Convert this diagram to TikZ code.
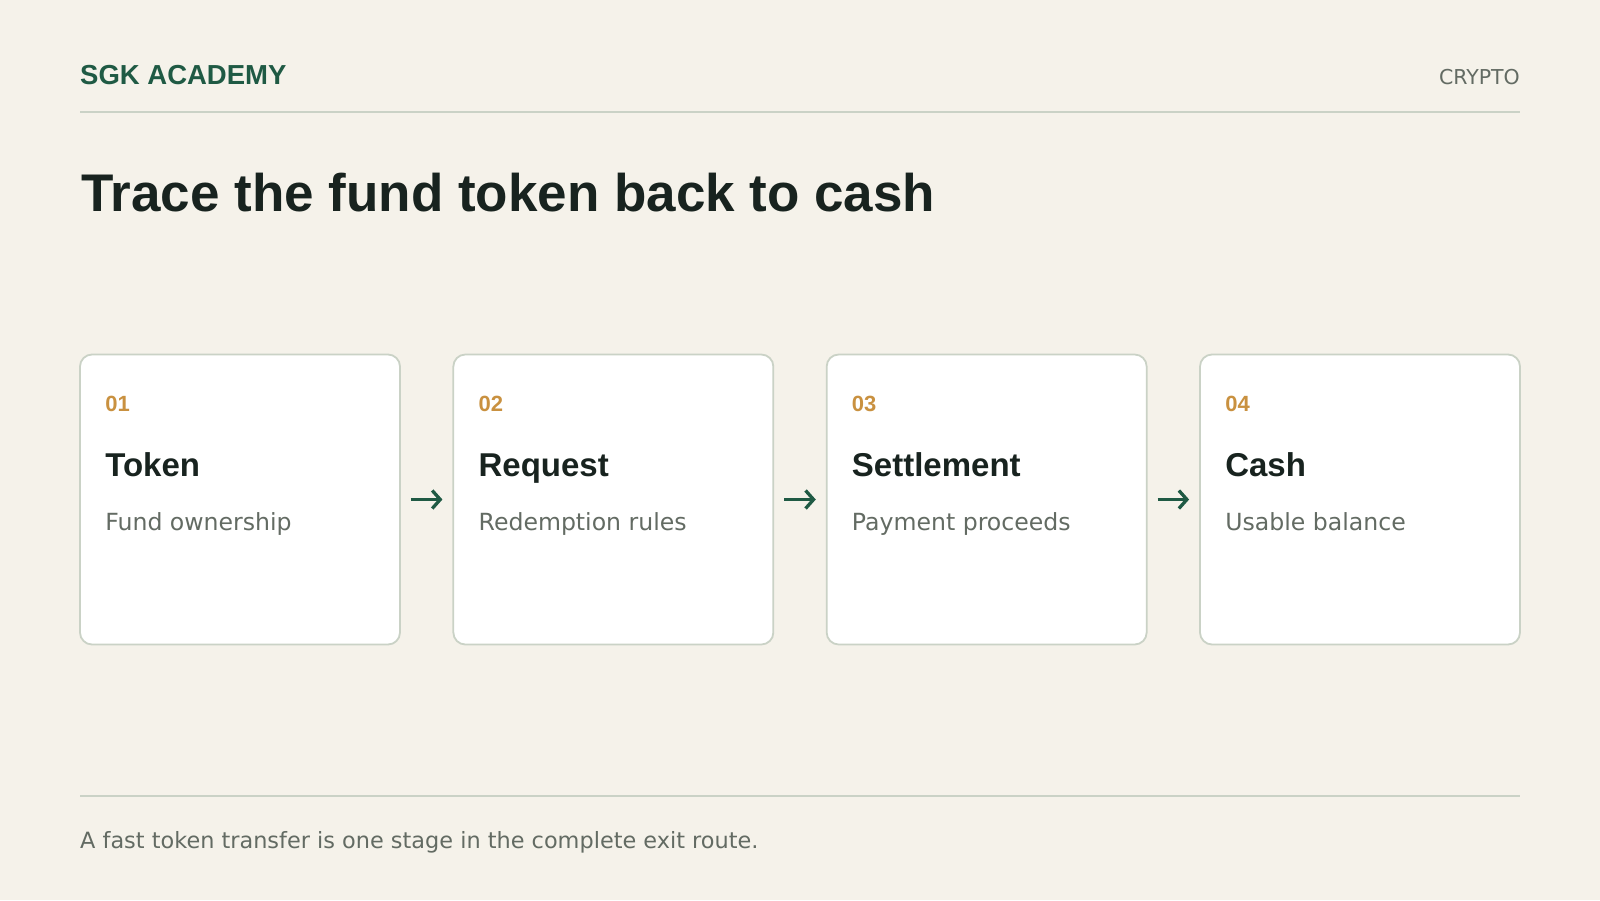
\documentclass[tikz,border=0pt]{standalone}
\usepackage{fontspec}
\setmainfont{DejaVu Sans}[BoldFont={Liberation Sans Bold}]
\usetikzlibrary{calc,arrows.meta}
\definecolor{bgcol}{HTML}{F5F2EA}
\definecolor{rulecol}{HTML}{CAD2C6}
\definecolor{brandgreen}{HTML}{1F5A44}
\definecolor{numorange}{HTML}{C99140}
\definecolor{inkdark}{HTML}{18231F}
\definecolor{inkgray}{HTML}{636B63}
\tikzset{
card/.style={draw=rulecol,line width=1.8pt,fill=white,rounded corners=12pt,minimum width=320pt,minimum height=290pt,inner sep=0pt},
txt/.style={anchor=base west,inner sep=0pt},
flow/.style={draw=brandgreen,line width=3.3pt,-{Straight Barb[length=8pt,width=18pt,line width=3.3pt]},shorten <=10pt,shorten >=10pt}
}
\begin{document}
\begin{tikzpicture}[x=1pt,y=-1pt]
\fill[bgcol] (0,0) rectangle (1600,900);
\useasboundingbox (0,0) rectangle (1600,900);

\node[txt,text=brandgreen,font=\fontsize{27.5}{32}\selectfont\bfseries] (brand) at (80,84) {SGK ACADEMY};
\node[txt,anchor=base east,text=inkgray,font=\fontsize{20.5}{24}\selectfont] (topic) at (1520,84) {CRYPTO};
\coordinate (hl) at (80,111.5);
\coordinate (hr) at (1520,111.5);
\draw[rulecol,line width=2pt] (hl) -- (hr);

\node[txt,text=inkdark,font=\fontsize{53}{60}\selectfont\bfseries] (title) at (81,211) {Trace the fund token back to cash};

\foreach \i/\head/\desc in {1/Token/Fund ownership,2/Request/Redemption rules,3/Settlement/Payment proceeds,4/Cash/Usable balance} {
\node[card] (c\i) at (240+373.333*\i-373.333,499.5) {};
\node[txt,text=numorange,font=\fontsize{22}{26}\selectfont\bfseries] (n\i) at ($(c\i.north west)+(26,58)$) {0\i};
\node[txt,text=inkdark,font=\fontsize{33}{40}\selectfont\bfseries] (h\i) at ($(c\i.north west)+(26,123)$) {\head};
\node[txt,text=inkgray,font=\fontsize{23.6}{28}\selectfont] (d\i) at ($(c\i.north west)+(26,177)$) {\desc};
}

\foreach \i in {1,2,3} {
\pgfmathtruncatemacro{\j}{\i+1}
\draw[flow] (c\i.east) -- (c\j.west);
}

\coordinate (fl) at (80,795.5);
\coordinate (fr) at (1520,795.5);
\draw[rulecol,line width=2pt] (fl) -- (fr);
\node[txt,text=inkgray,font=\fontsize{22.4}{28}\selectfont] (note) at (80,848) {A fast token transfer is one stage in the complete exit route.};
\end{tikzpicture}
\end{document}
